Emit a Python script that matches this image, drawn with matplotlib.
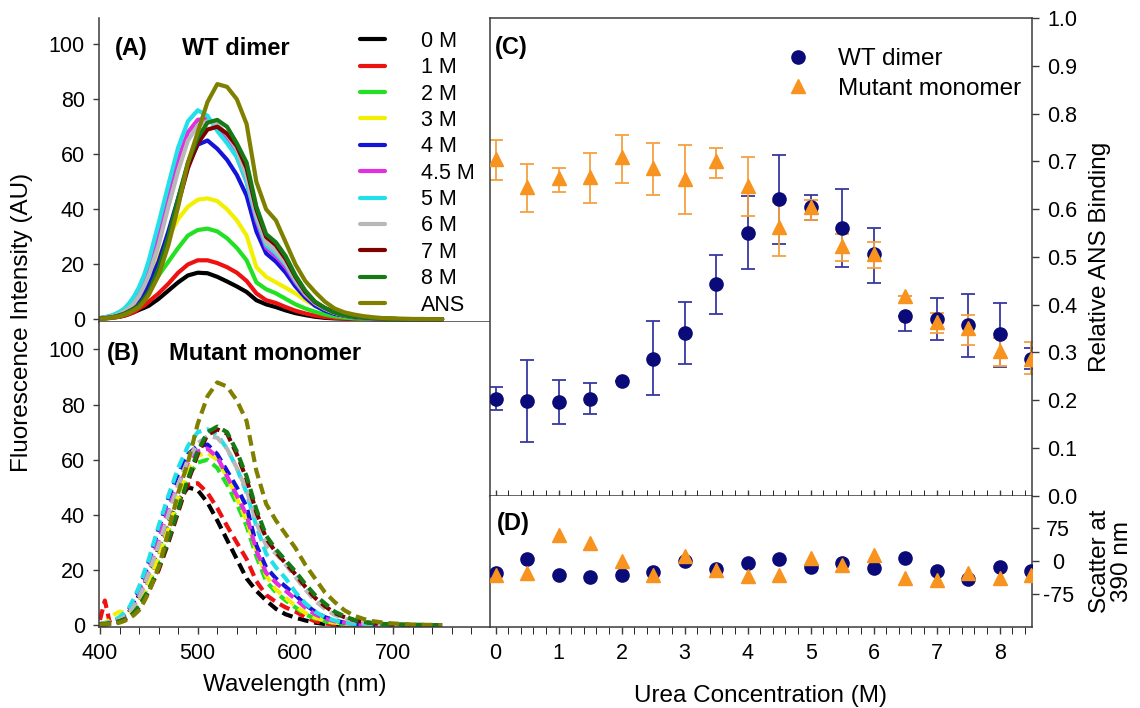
import numpy as np
import matplotlib
matplotlib.use('Agg')
import matplotlib.pyplot as plt
from matplotlib.ticker import MultipleLocator

plt.rcParams['font.family'] = ['Liberation Sans', 'DejaVu Sans']
plt.rcParams['axes.unicode_minus'] = False

# ---------------- data ----------------
wavelength = [400, 405, 410, 415, 420, 425, 430, 435, 440, 445, 450,
              460, 470, 480, 490, 500, 510, 520, 530, 540, 550, 560, 570, 580,
              590, 600, 610, 620, 630, 640, 650, 660, 670, 680, 690, 700,
              710, 720, 730, 740, 750]

labels = ['0 M', '1 M', '2 M', '3 M', '4 M', '4.5 M', '5 M', '6 M', '7 M', '8 M', 'ANS']
colors = ['#000000', '#ee1111', '#22e022', '#f0f000', '#1414d8', '#e030e0',
          '#22e0e8', '#b8b8b8', '#800000', '#157a15', '#808000']

wt_0 = [0.3, 0.4, 0.6, 0.8, 1.0, 1.4, 2.0, 2.7, 3.5, 4.2, 5.0, 7.5, 10.5, 13.5, 16, 17, 16.8, 15.5, 13.8, 12, 10, 7, 5.5, 4.5, 3.3, 2.3, 1.6, 1.0, 0.6, 0.4, 0.3, 0.2, 0.2, 0.1, 0.1, 0.1, 0.1, 0.1, 0.1, 0.1, 0.1]
wt_1 = [0.3, 0.4, 0.5, 0.7, 1.0, 1.4, 2.0, 2.7, 4.0, 5.0, 6.5, 9.5, 13, 17, 20, 21.5, 21.5, 20.5, 19, 17, 14, 9.5, 7, 6, 4.5, 3.2, 2.2, 1.4, 0.9, 0.6, 0.4, 0.3, 0.2, 0.2, 0.1, 0.1, 0.1, 0.1, 0.1, 0.1, 0.1]
wt_2 = [0.3, 0.4, 0.6, 0.9, 1.2, 1.8, 2.5, 4.0, 6.0, 8.0, 10.5, 16, 21, 26, 30.5, 32.5, 33, 32, 29.5, 26, 21.5, 13.5, 11, 9.5, 7.5, 5.5, 4, 2.8, 1.8, 1.1, 0.7, 0.4, 0.3, 0.2, 0.2, 0.1, 0.1, 0.1, 0.1, 0.1, 0.1]
wt_3 = [0.3, 0.5, 0.8, 1.2, 1.8, 2.8, 4.0, 6.0, 9.0, 12, 15.5, 23, 30, 36.5, 41, 43.5, 44, 43, 40, 36, 30.5, 19, 15.5, 13.5, 11.5, 9.5, 7, 5, 3.2, 2, 1.2, 0.8, 0.5, 0.3, 0.2, 0.2, 0.1, 0.1, 0.1, 0.1, 0.1]
wt_4 = [0.5, 0.7, 1.0, 1.4, 2.0, 2.8, 4.0, 5.5, 7.5, 10, 13, 21, 32, 44, 56, 63.5, 65, 62, 58, 52.5, 45, 32, 24, 21, 17, 12, 8, 5, 3.2, 2, 1.3, 0.8, 0.5, 0.3, 0.2, 0.2, 0.1, 0.1, 0.1, 0.1, 0.1]
wt_45 = [0.5, 0.8, 1.2, 1.8, 2.6, 3.7, 5.0, 7.0, 10, 14, 19, 32, 46, 58, 68, 72.5, 73, 70, 65, 59, 50, 36, 26, 23, 19, 13.5, 9, 5.8, 3.8, 2.4, 1.5, 1.0, 0.6, 0.4, 0.3, 0.2, 0.1, 0.1, 0.1, 0.1, 0.1]
wt_5 = [0.5, 0.8, 1.2, 1.9, 2.8, 4.0, 6.0, 8.5, 11.8, 16, 21.5, 35, 49, 62.5, 72, 76, 74, 68.5, 64, 59, 50, 37, 27, 24, 20, 14, 9.3, 6, 3.9, 2.4, 1.5, 1.0, 0.6, 0.4, 0.3, 0.2, 0.1, 0.1, 0.1, 0.1, 0.1]
wt_6 = [0.4, 0.6, 0.9, 1.3, 2.0, 2.9, 4.2, 6.0, 8.5, 12, 16, 27, 41, 54, 65, 70.5, 72, 71, 67, 62, 52, 38, 28, 25, 20.5, 14.5, 9.5, 6, 4, 2.5, 1.6, 1.0, 0.7, 0.4, 0.3, 0.2, 0.1, 0.1, 0.1, 0.1, 0.1]
wt_7 = [0.3, 0.5, 0.7, 1.0, 1.5, 2.1, 3.0, 4.0, 5.0, 7.5, 10, 18, 29, 42, 55, 64, 69, 70, 67.5, 63, 55, 40, 30, 27, 22, 15.5, 10, 6.3, 4.2, 2.6, 1.6, 1.0, 0.7, 0.4, 0.3, 0.2, 0.1, 0.1, 0.1, 0.1, 0.1]
wt_8 = [0.3, 0.5, 0.7, 1.0, 1.5, 2.1, 3.0, 4.0, 5.0, 7.5, 10, 18.5, 30, 44, 57, 66, 71.5, 72.5, 70, 64, 57, 41, 31, 28, 23, 16, 10.5, 6.5, 4.2, 2.6, 1.6, 1.1, 0.7, 0.5, 0.3, 0.2, 0.1, 0.1, 0.1, 0.1, 0.1]
wt_ans = [0.3, 0.4, 0.6, 0.9, 1.2, 1.8, 2.5, 3.4, 4.5, 6.5, 9, 16, 27, 41, 57, 68, 79, 85.5, 84.5, 80, 71, 50, 40, 36, 28, 20, 14, 10, 6.5, 4, 2.6, 1.8, 1.2, 0.8, 0.5, 0.4, 0.3, 0.2, 0.2, 0.1, 0.1]

mut_0 = [0.2, 0.3, 0.5, 1.0, 1.5, 2.5, 5.0, 7.5, 11, 14.5, 18.5, 28, 37.5, 45, 50, 49, 44.5, 38, 31, 24, 17, 12.5, 9, 6, 4, 2.8, 1.8, 1.0, 0.5, 0.3, 0.2, 0.1, 0.1, 0.1, 0.1, 0.1, 0.1, 0.1, 0.1, 0.1, 0.1]
mut_1 = [2.0, 9.0, 1.0, 0.8, 1.2, 2.0, 3.5, 5.5, 8.5, 12, 16, 25, 35, 44.5, 51, 51.5, 48, 42.5, 36, 30, 24, 16, 11, 8.5, 6.5, 5, 3, 1.5, 0.7, 0.3, 0.2, 0.1, 0.1, 0.1, 0.1, 0.1, 0.1, 0.1, 0.1, 0.1, 0.1]
mut_2 = [0.3, 0.5, 0.8, 1.2, 1.8, 2.6, 4.0, 5.5, 8.0, 11, 15, 24, 34, 45, 54, 59, 60, 57, 51, 44, 36, 25, 16, 12, 9, 6.5, 4, 2.5, 1.5, 0.8, 0.5, 0.3, 0.2, 0.1, 0.1, 0.1, 0.1, 0.1, 0.1, 0.1, 0.1]
mut_3 = [0.5, 1.0, 2.0, 4.0, 5.0, 4.5, 5.0, 6.5, 9.0, 12, 16, 25, 35, 46, 56, 61.5, 62.5, 60, 54, 46, 38, 27, 18, 13, 10, 7, 4.5, 2.8, 1.7, 1.0, 0.6, 0.4, 0.2, 0.1, 0.1, 0.1, 0.1, 0.1, 0.1, 0.1, 0.1]
mut_4 = [0.5, 0.7, 1.0, 1.6, 2.5, 4.0, 6.0, 9.0, 13, 17.5, 23, 35, 46, 55, 62, 65, 65.5, 62, 56, 50, 43, 29, 21, 17, 14, 11, 7.5, 5, 3, 1.8, 1.0, 0.6, 0.4, 0.2, 0.1, 0.1, 0.1, 0.1, 0.1, 0.1, 0.1]
mut_45 = [0.4, 0.6, 0.9, 1.4, 2.2, 3.4, 5.0, 7.5, 11, 15, 20, 31, 42, 51, 59, 63, 64, 61, 54, 47, 40, 27, 19, 15.5, 12.5, 9.5, 6.5, 4, 2.5, 1.5, 0.9, 0.5, 0.3, 0.2, 0.1, 0.1, 0.1, 0.1, 0.1, 0.1, 0.1]
mut_5 = [0.5, 0.8, 1.2, 1.9, 3.0, 4.6, 6.5, 10, 14, 19, 24, 36, 47, 57, 65, 70, 71, 69, 64, 57, 48, 36, 26, 21, 17, 12, 8, 5, 3, 1.8, 1.0, 0.6, 0.4, 0.2, 0.1, 0.1, 0.1, 0.1, 0.1, 0.1, 0.1]
mut_6 = [0.4, 0.6, 0.9, 1.3, 2.0, 3.0, 4.5, 7.0, 10, 14, 19, 29, 40, 51, 60, 66, 68.5, 68, 64, 57, 49, 37, 29, 26, 22, 17.5, 13, 9, 6, 3.8, 2.5, 1.5, 0.9, 0.6, 0.4, 0.3, 0.2, 0.1, 0.1, 0.1, 0.1]
mut_7 = [0.3, 0.5, 0.7, 1.0, 1.5, 2.2, 3.0, 4.5, 6.5, 9, 12.5, 20, 30, 41, 52, 62, 69, 71, 69.5, 62, 53, 41, 31.5, 26.5, 22.5, 18.5, 14, 10, 7, 4.5, 3, 1.9, 1.2, 0.8, 0.5, 0.3, 0.2, 0.2, 0.1, 0.1, 0.1]
mut_8 = [0.3, 0.5, 0.7, 1.0, 1.5, 2.2, 3.0, 4.8, 7.0, 10, 13, 21, 31, 42, 53, 63, 70, 72, 70, 63, 54, 42, 32.5, 27.5, 23.5, 19.5, 15, 11, 8, 5, 3.3, 2, 1.2, 0.8, 0.5, 0.4, 0.3, 0.2, 0.2, 0.1, 0.1]
mut_ans = [0.3, 0.4, 0.5, 0.7, 1.0, 1.6, 2.5, 3.8, 5.5, 8.5, 12, 21, 34, 48, 59, 73, 83, 88, 86.5, 81.5, 74, 56, 44, 38, 33, 28, 22, 17, 12, 8.5, 5.5, 3.5, 2.3, 1.5, 1.0, 0.7, 0.5, 0.3, 0.2, 0.2, 0.1]

wt_spectra = [wt_0, wt_1, wt_2, wt_3, wt_4, wt_45, wt_5, wt_6, wt_7, wt_8, wt_ans]
mut_spectra = [mut_0, mut_1, mut_2, mut_3, mut_4, mut_45, mut_5, mut_6, mut_7, mut_8, mut_ans]

urea = [0, 0.5, 1, 1.5, 2, 2.5, 3, 3.5, 4, 4.5, 5, 5.5, 6, 6.5, 7, 7.5, 8, 8.5]
wt_ans_binding = [0.203, 0.198, 0.195, 0.202, 0.240, 0.287, 0.340, 0.443, 0.551, 0.621, 0.604, 0.561, 0.507, 0.377, 0.370, 0.357, 0.338, 0.286]
wt_err_low = [0.180, 0.112, 0.149, 0.170, 0.240, 0.210, 0.275, 0.381, 0.475, 0.526, 0.577, 0.479, 0.446, 0.344, 0.326, 0.291, 0.270, 0.265]
wt_err_high = [0.228, 0.284, 0.242, 0.235, 0.240, 0.366, 0.406, 0.504, 0.627, 0.713, 0.630, 0.643, 0.561, 0.377, 0.414, 0.422, 0.404, 0.310]
mut_ans_binding = [0.706, 0.647, 0.665, 0.667, 0.709, 0.687, 0.663, 0.701, 0.648, 0.563, 0.604, 0.523, 0.507, 0.418, 0.364, 0.350, 0.302, 0.286]
mut_err_low = [0.662, 0.595, 0.637, 0.612, 0.655, 0.630, 0.589, 0.665, 0.585, 0.502, 0.578, 0.491, 0.476, 0.418, 0.340, 0.315, 0.272, 0.255]
mut_err_high = [0.745, 0.695, 0.686, 0.718, 0.755, 0.739, 0.734, 0.729, 0.709, 0.616, 0.620, 0.549, 0.532, 0.418, 0.383, 0.379, 0.330, 0.322]

wt_scatter = [-28, 4, -31, -36, -31, -25, 0, -19, -5, 5, -13, -5, -17, 8, -24, -41, -13, -22]
mut_scatter = [-31, -27, 60, 41, 0, -33, 11, -21, -34, -33, 6, -9, 14, -38, -44, -28, -40, -31]

# ---------------- figure ----------------
W, H = 1140, 708
fig = plt.figure(figsize=(W / 100, H / 100), dpi=100)


def rect(l, t, r, b):
    return [l / W, 1 - b / H, (r - l) / W, (b - t) / H]


axA = fig.add_axes(rect(98.7, 18, 490, 321.7))
axB = fig.add_axes(rect(98.7, 321.7, 490, 626.5))
axC = fig.add_axes(rect(490, 18.3, 1031.7, 495.5))
axD = fig.add_axes(rect(490, 495.5, 1031.7, 626.5))

spine_c = '#3a3a3a'
TICK_FS = 15.5
LABEL_FS = 17.5
BOLD_FS = 17

for ax in (axA, axB, axC, axD):
    for s in ax.spines.values():
        s.set_color(spine_c)
        s.set_linewidth(1.1)
    ax.tick_params(colors=spine_c, labelcolor='black', labelsize=TICK_FS, width=1.0)

# ---- panel A ----
for y, c, lab in zip(wt_spectra, colors, labels):
    axA.plot(wavelength, y, color=c, lw=3.0, solid_capstyle='round',
             solid_joinstyle='round', label=lab)
axA.set_xlim(398.7, 799)
axA.set_ylim(-0.8, 109.5)
axA.spines['top'].set_visible(False)
axA.spines['right'].set_visible(False)
axA.xaxis.set_major_locator(MultipleLocator(100))
axA.xaxis.set_minor_locator(MultipleLocator(20))
axA.yaxis.set_major_locator(MultipleLocator(20))
axA.tick_params(axis='x', which='both', direction='out', length=5, labelbottom=False)
axA.tick_params(axis='y', direction='out', length=4, pad=6)
axA.text(0.042, 0.901, '(A)', transform=axA.transAxes, fontsize=BOLD_FS,
         fontweight='bold', va='center', ha='left')
axA.text(0.213, 0.901, 'WT dimer', transform=axA.transAxes, fontsize=BOLD_FS,
         fontweight='bold', va='center', ha='left')
axA.legend(loc='upper left', bbox_to_anchor=(0.6677, 0.958), frameon=False,
           fontsize=TICK_FS, handlelength=1.16, handletextpad=1.67,
           labelspacing=0.25, borderpad=0, borderaxespad=0)

# ---- panel B ----
for y, c in zip(mut_spectra, colors):
    axB.plot(wavelength, y, color=c, lw=3.0, linestyle=(0, (2.6, 1.4)))
axB.set_xlim(398.7, 799)
axB.set_ylim(-0.4, 110)
axB.spines['top'].set_visible(False)
axB.spines['right'].set_visible(False)
axB.xaxis.set_major_locator(MultipleLocator(100))
axB.xaxis.set_minor_locator(MultipleLocator(20))
axB.yaxis.set_major_locator(MultipleLocator(20))
axB.set_xticks([400, 500, 600, 700])
axB.tick_params(axis='x', which='both', direction='out', length=5, pad=7)
axB.tick_params(axis='y', direction='out', length=4, pad=6)
axB.text(0.021, 0.897, '(B)', transform=axB.transAxes, fontsize=BOLD_FS,
         fontweight='bold', va='center', ha='left')
axB.text(0.18, 0.897, 'Mutant monomer', transform=axB.transAxes, fontsize=BOLD_FS,
         fontweight='bold', va='center', ha='left')

# ---- panel C ----
navy = '#0a0a78'
navy_err = '#3838a0'
orange = '#f7931e'
orange_err = '#f5a040'
u = np.array(urea)
wv = np.array(wt_ans_binding)
mv = np.array(mut_ans_binding)
axC.errorbar(u, wv, yerr=[wv - np.array(wt_err_low), np.array(wt_err_high) - wv],
             fmt='none', ecolor=navy_err, elinewidth=1.3, capsize=5, capthick=1.3, zorder=2)
axC.errorbar(u, mv, yerr=[mv - np.array(mut_err_low), np.array(mut_err_high) - mv],
             fmt='none', ecolor=orange_err, elinewidth=1.3, capsize=5, capthick=1.3, zorder=2.5)
axC.plot(u, wv, 'o', color=navy, ms=9.5, mec=navy, zorder=3, label='WT dimer')
axC.plot(u, mv, '^', color=orange, ms=10, mec=orange, zorder=4, label='Mutant monomer')
axC.set_xlim(-0.09, 8.51)
axC.set_ylim(0, 1.0)
axC.yaxis.tick_right()
axC.yaxis.set_major_locator(MultipleLocator(0.1))
axC.yaxis.set_major_formatter(matplotlib.ticker.FormatStrFormatter('%.1f'))
axC.tick_params(axis='y', direction='out', length=5, pad=6)
axC.xaxis.set_major_locator(MultipleLocator(1))
axC.xaxis.set_minor_locator(MultipleLocator(0.2))
axC.tick_params(axis='x', which='both', direction='in', length=4, labelbottom=False)
axC.yaxis.set_label_position('right')
axC.set_ylabel('Relative ANS Binding', fontsize=LABEL_FS, rotation=90, va='center', ha='center')
axC.yaxis.set_label_coords(1.126, 0.5)
axC.text(0.009, 0.938, '(C)', transform=axC.transAxes, fontsize=BOLD_FS,
         fontweight='bold', va='center', ha='left')
axC.legend(loc='upper left', bbox_to_anchor=(0.546, 0.937), frameon=False,
           fontsize=LABEL_FS, handlelength=1.0, handletextpad=1.14,
           labelspacing=0.3, borderpad=0, borderaxespad=0)

# ---- panel D ----
axD.plot(u, wt_scatter, 'o', color=navy, ms=9.5, mec=navy, zorder=3)
axD.plot(u, mut_scatter, '^', color=orange, ms=10, mec=orange, zorder=4)
axD.set_xlim(-0.09, 8.51)
axD.set_ylim(-150, 150)
axD.spines['top'].set_visible(False)
axD.yaxis.tick_right()
axD.set_yticks([-75, 0, 75])
axD.tick_params(axis='y', direction='out', length=5, pad=14)
for lbl in axD.get_yticklabels():
    lbl.set_horizontalalignment('center')
axD.xaxis.set_major_locator(MultipleLocator(1))
axD.xaxis.set_minor_locator(MultipleLocator(0.2))
axD.set_xticks(range(0, 9))
axD.tick_params(axis='x', which='both', direction='out', length=5, pad=7)
axD.yaxis.set_label_position('right')
axD.set_ylabel('Scatter at\n390 nm', fontsize=LABEL_FS, rotation=90, va='center',
               ha='center', linespacing=1.0)
axD.yaxis.set_label_coords(1.146, 0.5)
axD.text(0.013, 0.788, '(D)', transform=axD.transAxes, fontsize=BOLD_FS,
         fontweight='bold', va='center', ha='left')

# ---- shared labels ----
fig.text(22 / W, 1 - 322 / H, 'Fluorescence Intensity (AU)', rotation=90,
         fontsize=LABEL_FS, ha='center', va='center')
fig.text(295 / W, 1 - 685 / H, 'Wavelength (nm)', fontsize=LABEL_FS, ha='center', va='center')
fig.text(760.5 / W, 1 - 696 / H, 'Urea Concentration (M)', fontsize=LABEL_FS,
         ha='center', va='center')

fig.savefig('out.png', dpi=100)
